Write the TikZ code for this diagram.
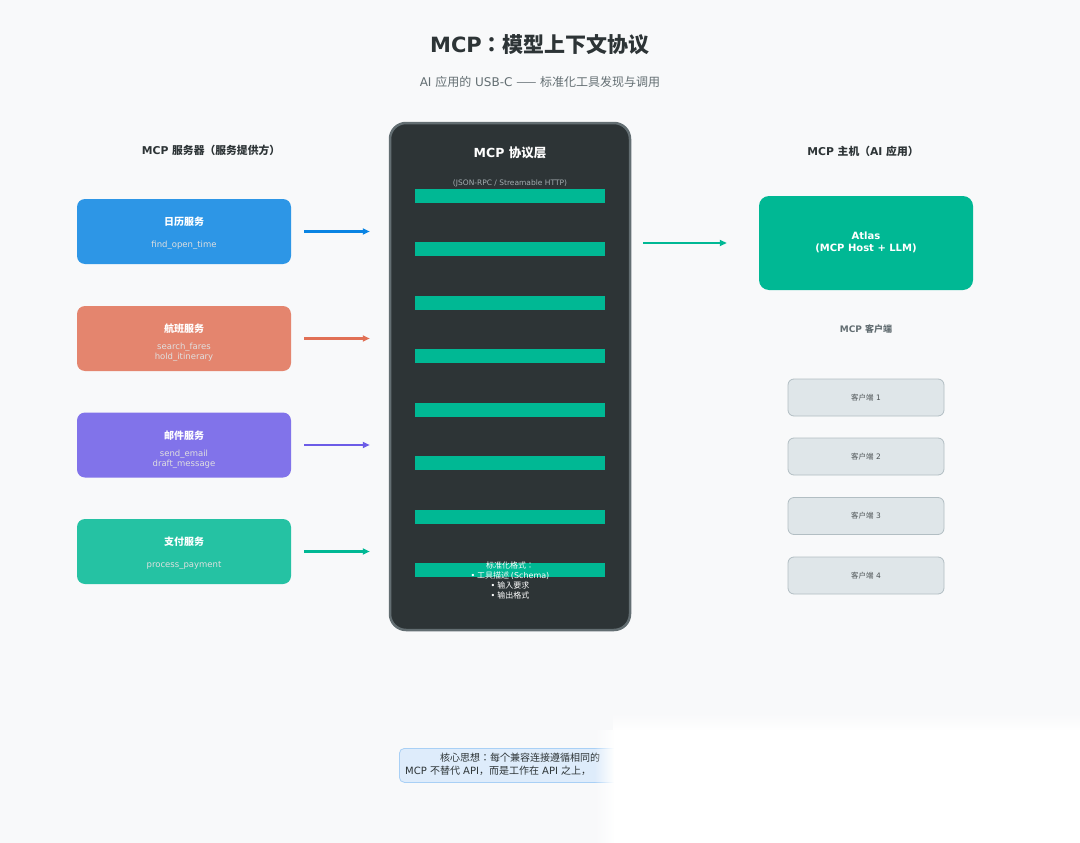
\documentclass[tikz,border=0pt]{standalone}
\usepackage{fontspec}
\setmainfont{DejaVu Sans}
\newfontfamily\cjk{Noto Sans CJK JP}
\usetikzlibrary{arrows.meta,fadings}
\definecolor{bg}{HTML}{F8F9FA}
\definecolor{dark}{HTML}{2D3436}
\definecolor{midgray}{HTML}{636E72}
\definecolor{calbox}{HTML}{2D96E6}
\definecolor{calarr}{HTML}{0984E3}
\definecolor{flybox}{HTML}{E4856E}
\definecolor{flyarr}{HTML}{E17055}
\definecolor{mailbox}{HTML}{8173EA}
\definecolor{mailarr}{HTML}{6C5CE7}
\definecolor{paybox}{HTML}{25C2A3}
\definecolor{payarr}{HTML}{00B894}
\definecolor{green}{HTML}{00B894}
\definecolor{clientfill}{HTML}{DFE6E9}
\definecolor{clientline}{HTML}{B2BEC3}
\definecolor{notefill}{HTML}{DEECFB}
\definecolor{noteline}{HTML}{A9D0F5}
\definecolor{jsongray}{HTML}{A4ADB1}
\newcommand\fsz[2]{\fontsize{#1}{#2}\selectfont}
\tikzfading[name=fadeleft, left color=transparent!100, right color=transparent!0]
\tikzfading[name=fadetop, top color=transparent!100, bottom color=transparent!0]
\begin{document}
\begin{tikzpicture}[x=1pt,y=-1pt,
  svc/.style={draw=none, rounded corners=8pt, minimum width=214pt, minimum height=65pt, inner sep=0pt},
  svctitle/.style={text=white, font=\fsz{10}{12}\bfseries\cjk, inner sep=0pt},
  tool/.style={text=white!88!black, font=\fsz{8.5}{10.2}, align=center, inner sep=0pt},
  arr/.style={line width=2.3pt, -{Triangle[length=7pt,width=6pt]}},
  header/.style={text=dark, font=\fsz{10.8}{12}\bfseries, inner sep=0pt},
  client/.style={draw=clientline, line width=0.8pt, fill=clientfill, rounded corners=6pt, minimum width=156pt, minimum height=37pt, inner sep=0pt, text=dark!85, font=\fsz{7.5}{9}},
  bar/.style={fill=green, draw=none}]
\useasboundingbox (0,0) rectangle (1080,843);
\fill[bg] (0,0) rectangle (1080,843);

% title
\node[text=dark, font=\fsz{21}{25}\bfseries, inner sep=0pt] (title) at (540,45) {MCP{\cjk：模型上下文协议}};
\node[text=midgray, font=\fsz{12}{14}, inner sep=0pt] (subtitle) at (540,82) {AI {\cjk 应用的} USB-C {\cjk ——} {\cjk 标准化工具发现与调用}};

% left header
\node[header] (lefthead) at (211,150) {MCP {\cjk 服务器（服务提供方）}};

% service boxes
\node[svc, fill=calbox] (cal) at (184,231.5) {};
\node[svctitle] (caltitle) at (184,222) {日历服务};
\node[tool] (caltool) at (184,245) {find\_open\_time};

\node[svc, fill=flybox] (fly) at (184,338.5) {};
\node[svctitle] (flytitle) at (184,328.5) {航班服务};
\node[tool] (flytool) at (184,352) {search\_fares\\hold\_itinerary};

\node[svc, fill=mailbox] (mail) at (184,445) {};
\node[svctitle] (mailtitle) at (184,435.5) {邮件服务};
\node[tool] (mailtool) at (184,459) {send\_email\\draft\_message};

\node[svc, fill=paybox] (pay) at (184,551.5) {};
\node[svctitle] (paytitle) at (184,542) {支付服务};
\node[tool] (paytool) at (184,566) {process\_payment};

% central layer
\node[draw=midgray, line width=2.5pt, fill=dark, rounded corners=16pt, minimum width=240pt, minimum height=507pt, inner sep=0pt] (layer) at (510,376.5) {};
\node[text=white, font=\fsz{12.5}{15}\bfseries, inner sep=0pt] (layertitle) at (510,153) {MCP {\cjk 协议层}};
\node[text=jsongray, font=\fsz{7.5}{8.5}, inner sep=0pt] (json) at (510,183) {(JSON-RPC / Streamable HTTP)};
\foreach \i in {0,...,7}{
  \fill[bar] (415,{189+\i*53.43}) rectangle (605,{203+\i*53.43});
}
\node[text=white, font=\fsz{8}{10}\cjk, align=center, inner sep=0pt, anchor=north] (fmt) at (510,561.5)
  {标准化格式：\\{\fontspec{DejaVu Sans}•} 工具描述 {\fontspec{DejaVu Sans}(Schema)}\\{\fontspec{DejaVu Sans}•} 输入要求\\{\fontspec{DejaVu Sans}•} 输出格式};

% arrows to layer
\draw[arr, calarr] ([xshift=13pt]cal.east) -- ([xshift=-19pt]cal.east -| layer.west);
\draw[arr, flyarr] ([xshift=13pt]fly.east) -- ([xshift=-19pt]fly.east -| layer.west);
\draw[arr, mailarr] ([xshift=13pt]mail.east) -- ([xshift=-19pt]mail.east -| layer.west);
\draw[arr, payarr] ([xshift=13pt]pay.east) -- ([xshift=-19pt]pay.east -| layer.west);

% right side
\node[header] (righthead) at (863,151) {MCP {\cjk 主机（}AI {\cjk 应用）}};
\node[fill=green, rounded corners=10pt, minimum width=214pt, minimum height=94pt, inner sep=0pt] (atlas) at (866,243) {};
\node[text=white, font=\fsz{10}{11.5}\bfseries, align=center, inner sep=0pt] (atlastext) at (866,242.5) {Atlas\\(MCP Host + LLM)};
\draw[arr, green] ([xshift=12pt]layer.east |- atlas.west) -- ([xshift=-32pt]atlas.west);

\node[text=midgray, font=\fsz{9}{11}\bfseries, inner sep=0pt] (clienthead) at (866,329) {MCP {\cjk 客户端}};
\node[client] (c1) at (866,397.5) {{\cjk 客户端} 1};
\node[client] (c2) at (866,456.5) {{\cjk 客户端} 2};
\node[client] (c3) at (866,516) {{\cjk 客户端} 3};
\node[client] (c4) at (866,575.5) {{\cjk 客户端} 4};

% note
\node[draw=noteline, line width=0.8pt, fill=notefill, rounded corners=5pt, minimum width=225pt, minimum height=34pt, inner sep=0pt, anchor=north west] (note) at (399,748) {};
\node[text=dark, font=\fsz{10}{12}\cjk, inner sep=0pt, anchor=west] (noteA) at (440,758) {核心思想：每个兼容连接遵循相同的};
\node[text=dark, font=\fsz{10}{12}, inner sep=0pt, anchor=west] (noteB) at (405,771) {MCP {\cjk 不替代} API{\cjk ，而是工作在} API {\cjk 之上，}};

% whitened bottom-right region
\fill[white, path fading=fadeleft] (594,730) rectangle (614,843);
\fill[white] (613.5,730) rectangle (1080,843);
\fill[white, path fading=fadetop] (613.5,712) rectangle (1080,730.5);
\end{tikzpicture}
\end{document}
